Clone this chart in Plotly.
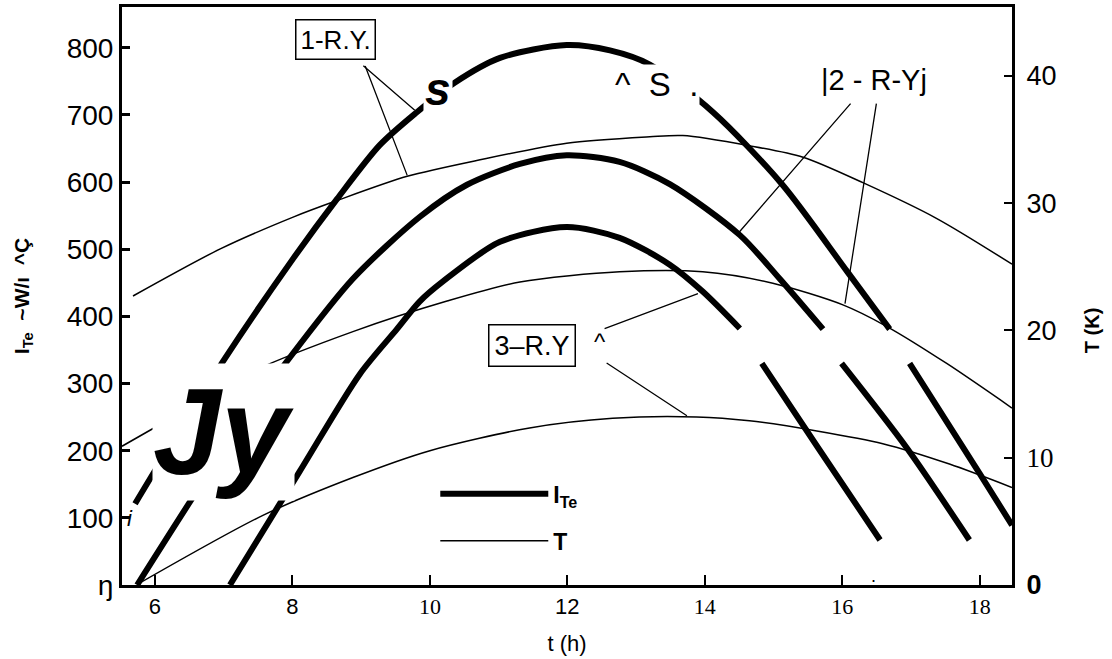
import plotly.graph_objects as go

# ---- data (None = gap visible in the scan) ----
# thick curves: I_Te (left axis)
t_i1 = [5.71, 6.07, 6.99, 8.01, 8.65, 9.27, 9.81, 10.36, 11.02, 11.99, 12.62, 13.20, 14.12, 15.13, 16.07, 16.69, None, 16.98, 18.00, 18.47]
i_1 = [121, 182, 333, 486, 575, 655, 704, 748, 785, 804, 796, 775, 704, 596, 467, 381, None, 330, 166, 89]

t_i2 = [5.74, 7.09, 7.92, 8.88, 9.85, 10.54, 11.31, 11.99, 12.76, 13.49, 14.51, 15.09, 15.72, None, 15.99, 16.94, 17.85]
i_2 = [0, 215, 333, 456, 548, 596, 627, 640, 630, 597, 521, 456, 381, None, 330, 204, 67]

t_i3 = [7.09, 8.11, 8.98, 9.52, 9.85, 10.19, 11.02, 11.99, 12.76, 13.49, 13.97, 14.51, None, 14.83, 15.67, 16.55]
i_3 = [0, 170, 314, 381, 422, 452, 511, 533, 517, 477, 437, 382, None, 330, 201, 67]

# thin curves: T (right axis)
t_T1 = [5.68, 6.95, 8.01, 8.65, 9.67, 10.73, 11.99, 13.20, 13.68, 14.65, 15.43, 16.30, 17.37, 18.47]
T_1 = [22.7, 26.4, 28.9, 30.2, 32.1, 33.4, 34.7, 35.2, 35.3, 34.5, 33.6, 31.6, 28.8, 25.2]

t_T2 = [5.52, 6.17, 7.35, 8.88, 10.25, 11.31, 12.76, 13.97, 14.99, 16.01, 16.65, 17.52, 18.47]
T_2 = [10.9, 12.9, 16.6, 19.9, 22.3, 23.8, 24.6, 24.6, 23.7, 22.0, 20.3, 17.4, 13.9]

t_T3 = [5.78, 7.57, 8.88, 10.00, 11.45, 12.66, 13.88, 14.65, 15.63, 16.59, 17.56, 18.47]
T_3 = [0.16, 5.47, 8.44, 10.55, 12.34, 13.1, 13.2, 12.9, 12.1, 11.1, 9.5, 7.66]

SANS = "Liberation Sans, Arial, sans-serif"

x_ticks = [6, 8, 10, 12, 14, 16, 18]
x_ticktext = ["6", "8", '<span style="font-family:Liberation Serif">10</span>', "12",
              '<span style="font-family:Liberation Serif">14</span>',
              '<span style="font-family:Liberation Serif">16</span>',
              '<span style="font-family:Liberation Serif">18</span>']
yl_ticks = [0, 100, 200, 300, 400, 500, 600, 700, 800]
yl_ticktext = ["ŋ", "100", "200", "300", "400", "500", "600", "700", "800"]
yr_ticks = [0, 10, 20, 30, 40]
yr_ticktext = ["<b>0</b>", '<span style="font-family:Liberation Serif">10</span>', "20", "30", "40"]

THICK = 6
THIN = 1.5

fig = go.Figure()
for tx, vy, show in [(t_i1, i_1, True), (t_i2, i_2, False), (t_i3, i_3, False)]:
    fig.add_trace(go.Scatter(x=tx, y=vy, mode="lines", yaxis="y", connectgaps=False,
                             line=dict(color="black", width=THICK, shape="spline", smoothing=0.8),
                             name="<b>I<sub>Te</sub></b>", legendgroup="ite", showlegend=show))
for tx, vy, show in [(t_T1, T_1, True), (t_T2, T_2, False), (t_T3, T_3, False)]:
    fig.add_trace(go.Scatter(x=tx, y=vy, mode="lines", yaxis="y2",
                             line=dict(color="black", width=THIN, shape="spline", smoothing=0.8),
                             name="<b>T</b>", legendgroup="t", showlegend=show))

ann = []
def leader(x0, y0, x1, y1):
    ann.append(dict(x=x1, y=y1, ax=x0, ay=y0, xref="x", yref="y", axref="x", ayref="y",
                    text="", showarrow=True, arrowhead=0, arrowwidth=1.3, arrowcolor="black",
                    standoff=0, startstandoff=0))

# curve labels
ann.append(dict(x=8.63, y=812, xref="x", yref="y", text="1-R.Y.", showarrow=False,
                font=dict(size=26, family=SANS, color="black"), bordercolor="black",
                borderwidth=1.5, borderpad=4, bgcolor="white"))
leader(9.01, 775, 9.78, 707)
leader(9.05, 775, 9.67, 610)

ann.append(dict(x=16.46, y=752, xref="x", yref="y", text="|2 - R-Yj", showarrow=False,
                font=dict(size=29, family=SANS, color="black")))
leader(16.14, 719, 14.48, 523)
leader(16.50, 719, 16.04, 419)

ann.append(dict(x=11.48, y=357, xref="x", yref="y", text="3–R.Y", showarrow=False,
                font=dict(size=27, family=SANS, color="black"), bordercolor="black",
                borderwidth=1.5, borderpad=5, bgcolor="white"))
ann.append(dict(x=12.47, y=362, xref="x", yref="y", text="^", showarrow=False,
                font=dict(size=24, family=SANS, color="black")))
leader(12.52, 381, 13.90, 434)
leader(12.55, 332, 13.74, 252)

# scanning artefact texts
ann.append(dict(x=10.12, y=738, xref="x", yref="y", text="<b><i>s</i></b>", showarrow=False,
                font=dict(size=46, family=SANS, color="black"), bgcolor="white"))
ann.append(dict(x=13.30, y=745, xref="x", yref="y", text="^  S  .", showarrow=False,
                font=dict(size=33, family=SANS, color="black"), bgcolor="white"))
ann.append(dict(x=7.0, y=228, xref="x", yref="y", text="<b><i>Jy</i></b>", showarrow=False,
                font=dict(size=122, family=SANS, color="black"), bgcolor="white", borderpad=0))
ann.append(dict(x=5.63, y=99, xref="x", yref="y", text="<i>i</i>", showarrow=False,
                font=dict(size=22, family=SANS, color="black")))
ann.append(dict(x=16.46, y=14, xref="x", yref="y", text=".", showarrow=False,
                font=dict(size=18, family=SANS, color="black")))

# right axis title
ann.append(dict(x=1.104, y=0.44, xref="paper", yref="paper", text="<b>T (K)</b>", showarrow=False,
                textangle=-90, font=dict(size=20, family=SANS, color="black")))

fig.update_layout(
    width=1112, height=659,
    margin=dict(l=122, r=100, t=4, b=74),
    paper_bgcolor="white", plot_bgcolor="white",
    font=dict(family=SANS, size=20, color="black"),
    showlegend=True,
    legend=dict(x=0.352, y=0.195, xanchor="left", yanchor="top", bgcolor="rgba(0,0,0,0)",
                itemwidth=108, tracegroupgap=14, font=dict(size=23, family=SANS)),
    xaxis=dict(range=[5.52, 18.47], tickvals=x_ticks, ticktext=x_ticktext,
               ticks="inside", ticklen=10, tickwidth=2, tickcolor="black",
               showline=True, linewidth=3, linecolor="black", mirror=True,
               showgrid=False, zeroline=False, tickfont=dict(size=22),
               title=dict(text="t (h)", font=dict(size=22), standoff=18)),
    yaxis=dict(range=[0, 860.7], tickvals=yl_ticks, ticktext=yl_ticktext,
               ticks="inside", ticklen=8, tickwidth=3, tickcolor="black",
               showline=True, linewidth=3, linecolor="black",
               showgrid=False, zeroline=False, tickfont=dict(size=28),
               title=dict(text="<b>I<sub>Te</sub>  ~W/ı  ^Ç</b>", font=dict(size=21), standoff=32)),
    yaxis2=dict(range=[0, 45.4], overlaying="y", side="right", tickvals=yr_ticks, ticktext=yr_ticktext,
                ticks="inside", ticklen=8, tickwidth=2, tickcolor="black",
                showline=True, linewidth=3, linecolor="black", ticklabelstandoff=6,
                showgrid=False, zeroline=False, tickfont=dict(size=27)),
    annotations=ann,
)

fig.write_html("out.html")
